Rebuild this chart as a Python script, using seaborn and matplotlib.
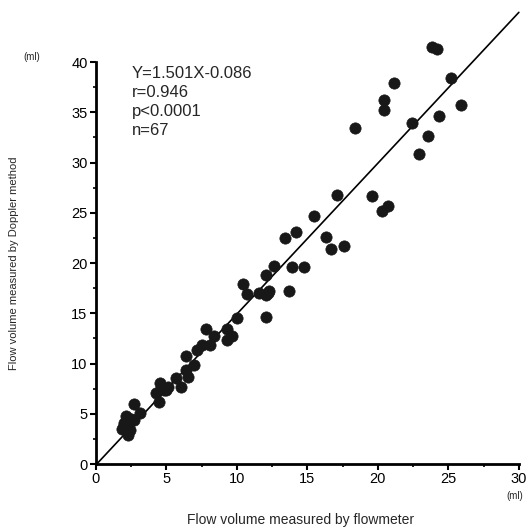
import numpy as np
import pandas as pd
import seaborn as sns
import matplotlib.pyplot as plt
from matplotlib.ticker import MultipleLocator

# flow volume (ml): flowmeter (x) vs Doppler method (y)
flowmeter = [
    23.85, 24.19, 21.13, 25.19, 20.41, 20.41, 25.86, 24.36, 22.40, 18.39,
    23.54, 22.89, 17.09, 19.57, 20.71, 20.29, 15.49, 13.44, 14.19, 16.35,
    16.65, 17.62, 12.61, 13.91, 14.77, 12.03, 10.42, 10.75, 11.54, 12.07,
    12.31, 13.72, 12.03, 9.98, 7.82, 9.31, 9.31, 9.68, 8.38, 8.10,
    7.55, 7.17, 6.39, 6.94, 6.39, 6.55, 5.67, 6.06, 4.53, 5.10,
    4.81, 4.27, 4.46, 2.67, 3.13, 2.72, 2.14, 1.97, 1.86, 2.25,
    2.00, 2.35, 2.50, 2.40, 4.60, 5.00, 12.20,
]
doppler = [
    41.46, 41.30, 37.94, 38.37, 36.22, 35.22, 35.72, 34.63, 33.96, 33.40,
    32.64, 30.81, 26.77, 26.63, 25.70, 25.17, 24.64, 22.52, 23.05, 22.62,
    21.36, 21.72, 19.73, 19.64, 19.64, 18.81, 17.88, 16.88, 16.98, 16.78,
    17.25, 17.25, 14.66, 14.56, 13.40, 13.40, 12.34, 12.74, 12.74, 11.80,
    11.84, 11.34, 10.78, 9.85, 9.35, 8.69, 8.59, 7.63, 8.03, 7.69,
    7.36, 7.03, 6.20, 5.94, 5.11, 4.38, 4.78, 4.05, 3.48, 2.89,
    3.90, 4.20, 4.50, 3.40, 7.60, 7.40, 17.00,
]
slope, intercept = 1.501, -0.086
stats_lines = ["Y=1.501X-0.086", "r=0.946", "p<0.0001", "n=67"]

sns.set_style("ticks")
plt.rcParams["font.family"] = ["Liberation Sans", "DejaVu Sans"]

df = pd.DataFrame({"flowmeter": flowmeter, "doppler": doppler})

fig = plt.figure(figsize=(5.3, 5.32), dpi=100)
ax = fig.add_axes([0.181, 0.1278, 0.798, 0.7556])

sns.scatterplot(data=df, x="flowmeter", y="doppler", ax=ax, s=66,
                color="#181818", edgecolor="#181818", linewidth=0.5,
                clip_on=False, zorder=3)

# fitted line Y = 1.501X - 0.086, drawn from the origin to the right edge
xs = np.array([0.06, 30.0])
ax.plot(xs, slope * xs + intercept, color="black", lw=1.2,
        clip_on=False, zorder=2)

ax.set_xlim(0, 30)
ax.set_ylim(0, 40)
ax.xaxis.set_major_locator(MultipleLocator(5))
ax.yaxis.set_major_locator(MultipleLocator(5))
ax.xaxis.set_minor_locator(MultipleLocator(2.5))
ax.yaxis.set_minor_locator(MultipleLocator(2.5))
ax.tick_params(which="major", length=4, width=1.5, labelsize=10.5, pad=2,
               color="black", labelcolor="black")
ax.tick_params(which="minor", length=2.5, width=1.2, color="black")
ax.set_xlabel("")
ax.set_ylabel("")
for side in ("left", "bottom"):
    ax.spines[side].set_linewidth(2)
    ax.spines[side].set_color("black")
sns.despine(ax=ax)

ax.text(0.085, 0.99, "\n".join(stats_lines), transform=ax.transAxes,
        fontsize=12, va="top", ha="left", linespacing=1.32)

fig.text(0.045, 0.893, "(ml)", fontsize=7, ha="left", va="center")
fig.text(0.972, 0.068, "(ml)", fontsize=7, ha="center", va="center")
fig.text(0.567, 0.022, "Flow volume measured by flowmeter", fontsize=10,
         ha="center", va="center")
fig.text(0.027, 0.505, "Flow volume measured by Doppler method", fontsize=8,
         rotation=90, ha="center", va="center")

fig.savefig("out.png", dpi=100)
